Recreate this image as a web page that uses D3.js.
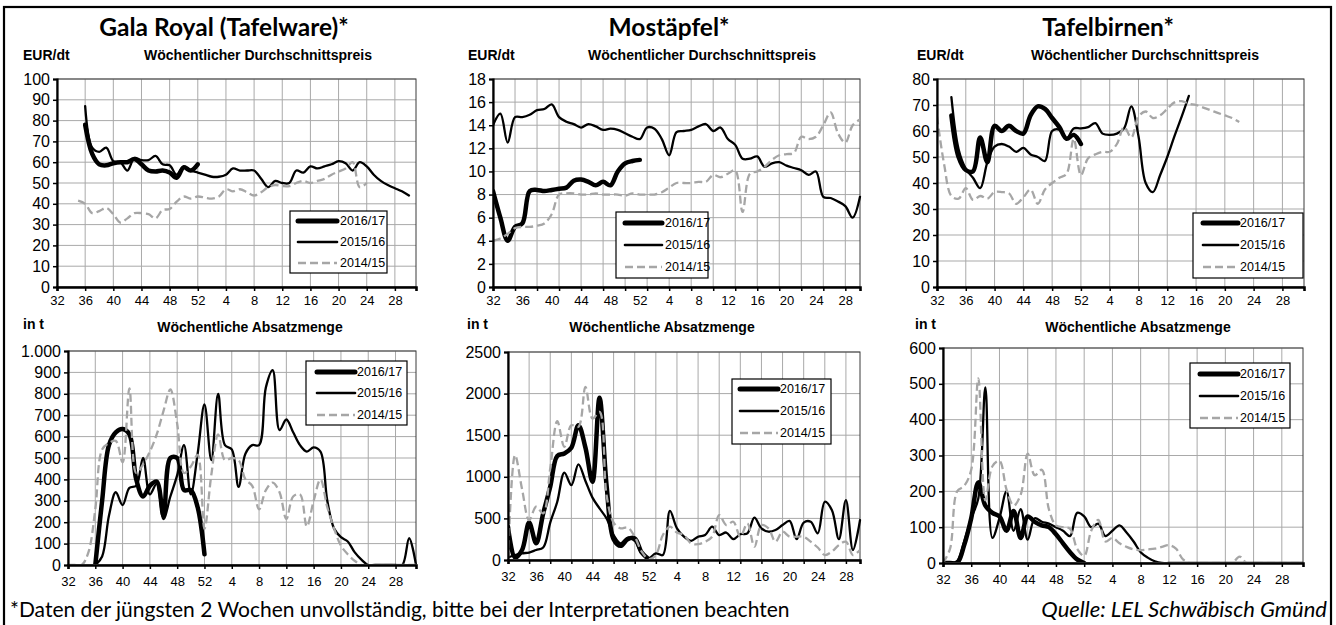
<!DOCTYPE html>
<html><head><meta charset="utf-8">
<script src="https://cdn.jsdelivr.net/npm/d3@7/dist/d3.min.js"></script>
<style>
html,body{margin:0;padding:0;background:#fff;}
svg{display:block;}
</style></head><body>
<svg id="c" width="1336" height="625"></svg>
<script>
const _ = null;
// week index 0 = KW 32 ... 20 = KW 52, 21 = KW 1 ...
const weekTickLabels = ["32","36","40","44","48","52","4","8","12","16","20","24","28"];
const seriesNames = ["2016/17","2015/16","2014/15"];
const chartTitles = ["Gala Royal (Tafelware)*","Mostäpfel*","Tafelbirnen*"];
const priceUnit = "EUR/dt", volumeUnit = "in t";
const priceSubtitle = "Wöchentlicher Durchschnittspreis";
const volumeSubtitle = "Wöchentliche Absatzmenge";
const footNote = "*Daten der jüngsten 2 Wochen unvollständig, bitte bei der Interpretationen beachten";
const sourceNote = "Quelle: LEL Schwäbisch Gmünd";

// Gala price EUR/dt
const galaPrice1617 = [_,_,_,_,78,64,59,58.5,59.5,60,60,61.5,59,56,55.5,56,55,52.5,57.5,56,59];
const galaPrice1516 = [_,_,_,_,87,67,65,67,60.5,60,56,62,61,61,63,59,58.5,54,58,56,55,54,53,53,54,57,56,56,56,52,48,51,50,50,56,55,58,57,58,59,60.5,59.5,56,60,58,54,51,49,47.5,46,44];
const galaPrice1415 = [_,_,_,41.5,40,35.5,36.5,38,35,31,33,35.5,35.5,35,33,37,37.5,41,43.5,42.5,43.5,43,42.5,43.5,47,46,47,45.5,44,45.5,48,49,48.5,48.5,50,51,50,51,52,54,55.5,57,60,48,50];
// Mostäpfel price EUR/dt
const mostPrice1617 = [8.3,6,4,5.2,5.5,8.3,8.4,8.3,8.4,8.5,8.6,9.2,9.3,9.1,8.8,9.1,8.8,10,10.7,10.9,11];
const mostPrice1516 = [14,15,12.5,14.7,14.7,14.9,15.3,15.4,15.8,14.7,14.3,14.1,13.8,14.1,13.9,13.6,13.7,13.6,13.3,13,12.8,13.8,13.7,12.8,11.4,13.4,13.5,13.6,13.9,14.1,13.5,13.8,12.8,12.3,11.1,11.1,11.3,10.4,10.7,10.8,10.5,10.3,10.1,9.7,10,7.8,7.7,7.4,7,6,7.8];
const mostPrice1415 = [4,4.2,4.6,5.1,5.2,5.2,5.3,5.5,6.3,8,8.1,8.1,8,8,8.1,8,8,8,7.9,8.1,8,8,8,8.2,8.6,9,9,9,9.1,9.1,9.7,9.5,9.8,10.1,6.5,9.8,10,10.4,11,11.4,11.5,11.6,13,12.8,13,14,15.1,13.3,12.5,14,14.5];
// Tafelbirnen price EUR/dt
const pearPrice1617 = [_,_,66,50,45,44.5,57.5,48,62,60,62,60,59,66,69.5,68.5,65,61.5,57,58.5,55];
const pearPrice1516 = [_,_,73,53,45.5,42,38,48,54,55,54,52,53.5,51,50,48.5,60,60.5,57,61,61,61.5,63,59,58.5,59,61,69.5,58,40,36.5,43,50,58,65.5,73.5];
const pearPrice1415 = [65.5,47,35,34,38,33.5,35,34,36.5,36.5,36,32,34.5,37.5,32,37.5,40,42,43.5,57,43,49.5,51,52,52,55,61.5,57.5,65.5,67.5,65,66,68.5,71,71.5,70.5,70,69,68,67,66,65,63.5];
// Gala volume t
const galaVol1617 = [_,_,_,_,0,300,560,620,635,610,400,320,370,390,230,500,500,350,350,270,50];
const galaVol1516 = [_,_,_,_,0,40,230,340,280,360,370,500,330,380,215,320,420,560,330,520,750,490,800,560,540,365,520,560,560,830,910,630,680,620,560,530,550,530,300,170,130,110,60,25,0,0,0,0,0,0,125,0];
const galaVol1415 = [0,0,0,60,260,540,570,580,480,825,430,470,530,610,720,820,660,430,460,515,170,420,610,490,500,490,400,370,260,350,385,340,215,320,330,180,300,400,270,170,90,50,20,0,0,0,0,0,0,0,0,0];
// Mostäpfel volume t
const mostVol1617 = [400,30,120,450,200,560,880,1250,1280,1350,1620,1350,940,1950,900,250,170,250,260,90,10];
const mostVol1516 = [30,60,80,90,120,150,450,700,1050,900,1150,950,750,620,500,300,200,270,230,80,20,80,60,590,380,280,230,280,300,400,300,330,250,310,320,510,380,340,360,420,470,250,450,460,320,700,600,250,720,120,480];
const mostVol1415 = [0,1260,850,480,640,560,1100,1670,1360,1620,1600,2080,1700,1780,780,450,380,390,280,100,10,60,300,400,330,300,200,190,220,280,540,420,460,280,440,160,420,380,220,340,280,280,280,220,150,60,100,180,220,60,120];
// Tafelbirnen volume t
const pearVol1617 = [0,0,0,50,125,225,160,140,130,90,145,70,130,115,105,100,80,55,30,10,0];
const pearVol1516 = [0,0,5,60,125,180,490,70,125,200,90,150,65,125,115,110,100,90,75,140,130,100,110,75,90,105,85,60,30,15,5,0,0,0,0,0,0,0,0,0,0,0,0,0,0,0,0,0,0,0,0,0];
const pearVol1415 = [0,40,200,215,260,515,175,270,285,205,160,190,305,245,260,150,105,100,95,40,20,90,120,60,70,55,45,38,36,38,40,45,50,40,10,0,0,0,0,0,0,0,18,0,0,0,0,0,0,0,0,0];

const panelData = [
  [galaPrice1617, galaPrice1516, galaPrice1415],
  [mostPrice1617, mostPrice1516, mostPrice1415],
  [pearPrice1617, pearPrice1516, pearPrice1415],
  [galaVol1617, galaVol1516, galaVol1415],
  [mostVol1617, mostVol1516, mostVol1415],
  [pearVol1617, pearVol1516, pearVol1415]
];

// layout only
const layout = [
 {x0:57,x1:416,y0:79,y1:287,xmax:51,grid:4,ymax:100,ystep:10,pad:4, leg:[290,211,97,62], rows:[221,242,263], ll:[298,337], lt:340},
 {x0:493,x1:860,y0:79,y1:287,xmax:50,grid:3,ymax:18,ystep:2,pad:4, leg:[616,212,92,66], rows:[223,245,267], ll:[625,662], lt:665},
 {x0:937,x1:1304,y0:79,y1:287,xmax:51,grid:4,ymax:80,ystep:10,pad:4, leg:[1193,213,110,65], rows:[223,245,267], ll:[1203,1238], lt:1240},
 {x0:68,x1:416,y0:351,y1:565,xmax:51,grid:4,ymax:1000,ystep:100,pad:7, leg:[306,361,101,64], rows:[372,393,415], ll:[317,355], lt:357},
 {x0:508,x1:860,y0:352,y1:560,xmax:50,grid:3,ymax:2500,ystep:500,pad:7, leg:[732,379,99,65], rows:[389,411,433], ll:[740,778], lt:780},
 {x0:943,x1:1303,y0:348,y1:563,xmax:51,grid:4,ymax:600,ystep:100,pad:7, leg:[1190,363,100,65], rows:[374,396,418], ll:[1200,1238], lt:1240}
];
const styles = [
  {w:4.5, c:"#000", dash:null, lw:5},
  {w:2.3, c:"#000", dash:null, lw:2.6},
  {w:2.3, c:"#a6a6a6", dash:"8,4", lw:2.6}
];

const svg = d3.select("#c");
const SANS = "'Liberation Sans', Arial, sans-serif";
const HUMAN = "Lato, 'Open Sans', sans-serif";
svg.append("rect").attr("x",4).attr("y",7).attr("width",1327).attr("height",650)
   .attr("fill","none").attr("stroke","#000").attr("stroke-width",2.2);

const thousands = v => d3.format(",")(v).replace(/,/g,".");

layout.forEach((L, pi) => {
  const g = svg.append("g");
  const x = d3.scaleLinear().domain([0, L.xmax]).range([L.x0, L.x1]);
  const y = d3.scaleLinear().domain([0, L.ymax]).range([L.y1, L.y0]);
  const yTicks = d3.range(0, L.ymax + L.ystep/2, L.ystep);
  const gridX = d3.range(L.grid, L.xmax + 0.01, L.grid);
  const labelX = d3.range(0, 49, 4);

  // grid
  g.append("g").selectAll("line").data(yTicks.slice(1)).join("line")
    .attr("x1",L.x0).attr("x2",L.x1).attr("y1",d=>y(d)).attr("y2",d=>y(d))
    .attr("stroke","#a9a9a9").attr("stroke-width",1);
  g.append("g").selectAll("line").data(gridX).join("line")
    .attr("y1",L.y0).attr("y2",L.y1).attr("x1",d=>x(d)).attr("x2",d=>x(d))
    .attr("stroke","#a9a9a9").attr("stroke-width",1);
  g.append("rect").attr("x",L.x0).attr("y",L.y0).attr("width",L.x1-L.x0).attr("height",L.y1-L.y0)
    .attr("fill","none").attr("stroke","#3a3a3a").attr("stroke-width",1);

  // lines
  const cid = "clip"+pi;
  svg.append("clipPath").attr("id",cid).append("rect")
    .attr("x",L.x0).attr("y",L.y0-6).attr("width",L.x1-L.x0+2).attr("height",L.y1-L.y0+5);
  const line = d3.line().defined(d=>d!=null).x((d,i)=>x(i)).y(d=>y(d))
    .curve(d3.curveCatmullRom.alpha(0.5));
  const lg = g.append("g").attr("clip-path",`url(#${cid})`);
  panelData[pi].forEach((arr, si) => {
    const s = styles[si];
    lg.append("path").attr("d", line(arr)).attr("fill","none")
      .attr("stroke", s.c).attr("stroke-width", s.w)
      .attr("stroke-dasharray", s.dash).attr("stroke-linejoin","round").attr("stroke-linecap", s.dash ? "butt":"round");
  });

  // axes
  const ya = g.append("g").attr("transform",`translate(${L.x0},0)`)
    .call(d3.axisLeft(y).tickValues(yTicks).tickSize(4).tickPadding(3)
      .tickFormat(pi===3 ? thousands : d3.format("d")));
  ya.select(".domain").attr("stroke","#000").attr("stroke-width",2.2);
  ya.selectAll(".tick line").attr("stroke","#000").attr("stroke-width",1.5);
  ya.selectAll("text").attr("font-family",SANS).attr("font-size",16).attr("fill","#000");

  const xa = g.append("g").attr("transform",`translate(0,${L.y1})`)
    .call(d3.axisBottom(x).tickValues(d3.range(0, L.xmax+0.01, L.grid)).tickSize(4).tickFormat(""));
  xa.select(".domain").attr("stroke","#000").attr("stroke-width",2.6);
  xa.selectAll(".tick line").attr("stroke","#000").attr("stroke-width",1.5);
  const xl = g.append("g").attr("transform",`translate(0,${L.y1})`)
    .call(d3.axisBottom(x).tickValues(labelX).tickSize(0).tickPadding(L.pad+5)
      .tickFormat(d => weekTickLabels[d/4]));
  xl.select(".domain").remove();
  xl.selectAll("text").attr("font-family",SANS).attr("font-size",13).attr("fill","#000");

  // legend
  const [lx,ly,lw,lh] = L.leg;
  const leg = g.append("g");
  leg.append("rect").attr("x",lx).attr("y",ly).attr("width",lw).attr("height",lh)
    .attr("fill","#fff").attr("stroke","#000").attr("stroke-width",1.2);
  seriesNames.forEach((nm, si) => {
    const s = styles[si];
    leg.append("line").attr("x1",L.ll[0]).attr("x2",L.ll[1]).attr("y1",L.rows[si]).attr("y2",L.rows[si])
      .attr("stroke",s.c).attr("stroke-width",s.lw).attr("stroke-dasharray",s.dash)
      .attr("stroke-linecap", s.dash ? "butt":"round");
    leg.append("text").attr("x",L.lt).attr("y",L.rows[si]).attr("dy","0.35em")
      .attr("font-family",SANS).attr("font-size",12.5).text(nm);
  });
});

// texts
const titlePos = [[224,36],[669,36],[1108,36]];
chartTitles.forEach((t,i)=>{
  svg.append("text").attr("x",titlePos[i][0]).attr("y",titlePos[i][1]).attr("text-anchor","middle")
    .attr("font-family",HUMAN).attr("font-weight",700).attr("font-size",24.5).text(t);
});
const unitTopPos = [23,468,917], subTopPos=[258,702,1145];
const unitBotPos = [23,467,915], subBotPos=[250,662,1138];
[0,1,2].forEach(i=>{
  svg.append("text").attr("x",unitTopPos[i]).attr("y",60).attr("font-family",SANS).attr("font-weight","bold").attr("font-size",14).text(priceUnit);
  svg.append("text").attr("x",subTopPos[i]).attr("y",60).attr("text-anchor","middle").attr("font-family",SANS).attr("font-weight","bold").attr("font-size",14).text(priceSubtitle);
  svg.append("text").attr("x",unitBotPos[i]).attr("y",329).attr("font-family",SANS).attr("font-weight","bold").attr("font-size",14).text(volumeUnit);
  svg.append("text").attr("x",subBotPos[i]).attr("y",332).attr("text-anchor","middle").attr("font-family",SANS).attr("font-weight","bold").attr("font-size",14).text(volumeSubtitle);
});
svg.append("text").attr("x",10).attr("y",617).attr("font-family",HUMAN).attr("font-size",21).text(footNote);
svg.append("text").attr("x",1327).attr("y",617).attr("text-anchor","end").attr("font-style","italic")
  .attr("font-family",HUMAN).attr("font-size",22).text(sourceNote);
</script>
</body></html>
